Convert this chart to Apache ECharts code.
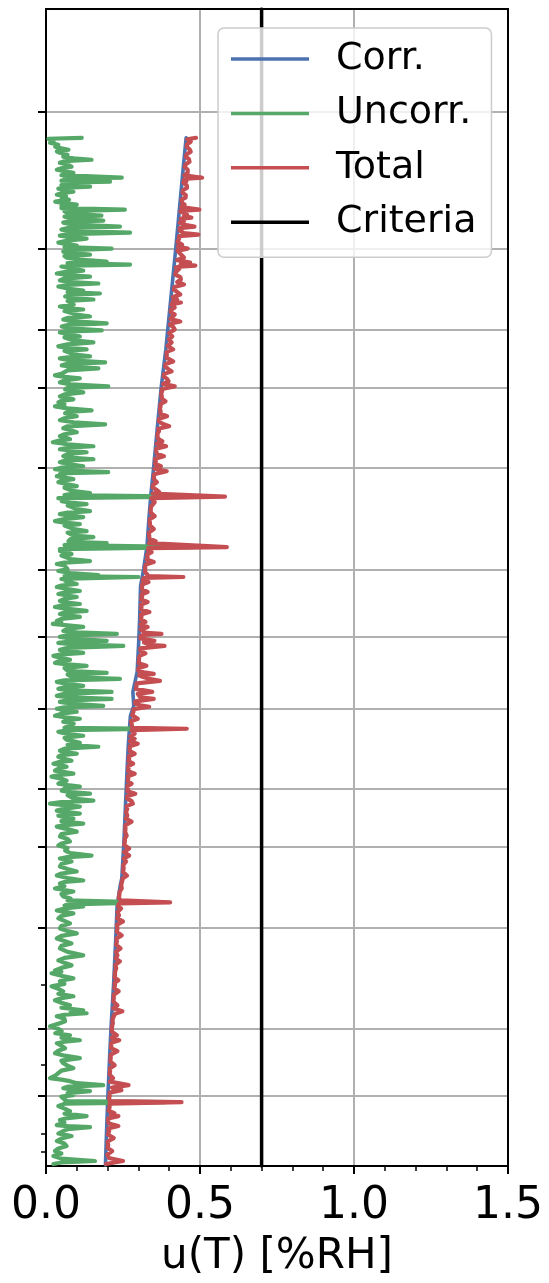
<!DOCTYPE html>
<html><head><meta charset="utf-8">
<script src="https://cdn.jsdelivr.net/npm/echarts@6/dist/echarts.min.js"></script>
<style>html,body{margin:0;padding:0;background:#fff}#c{width:549px;height:1283px}</style>
</head><body><div id="c"></div>
<script>
// Series names (legend order)
const seriesNames = ['Corr.', 'Uncorr.', 'Total', 'Criteria'];
// Each entry: [profile level (arbitrary units, increasing downward), u(T) in %RH]
const corr = [[138,0.455],[170,0.445],[200,0.436],[250,0.421],[303,0.404],[350,0.389],[388,0.374],[430,0.361],[473,0.348],[497,0.34],[520,0.334],[547,0.328],[570,0.317],[587,0.307],[620,0.304],[643,0.301],[673,0.296],[693,0.282],[707,0.285],[717,0.274],[747,0.267],[773,0.263],[807,0.258],[843,0.253],[880,0.246],[887,0.241],[907,0.231],[943,0.226],[983,0.22],[1030,0.211],[1063,0.206],[1097,0.201],[1130,0.197],[1167,0.193]];
const uncorr = [[138,0.116],[139,0.008],[141,0.025],[143,0.013],[145,0.04],[147,0.03],[148.5,0.05],[150,0.073],[151.5,0.035],[153,0.045],[155,0.07],[157,0.056],[158.5,0.09],[160,0.148],[161.5,0.06],[163,0.045],[165,0.07],[167,0.083],[168.5,0.05],[170,0.035],[171.5,0.06],[173,0.089],[175.5,0.05],[178,0.246],[179,0.06],[180,0.078],[181,0.05],[182,0.208],[183,0.06],[184,0.083],[185.5,0.05],[187,0.143],[188,0.07],[189,0.04],[190.5,0.07],[192,0.089],[193.5,0.05],[195,0.035],[196.5,0.065],[198,0.05],[200,0.075],[202,0.03],[203.5,0.06],[205,0.1],[206,0.05],[207,0.073],[208.5,0.05],[210,0.256],[211.5,0.06],[213,0.067],[214.5,0.1],[216,0.18],[217,0.06],[218,0.062],[219.5,0.11],[221,0.186],[222,0.07],[223,0.056],[225,0.09],[227,0.24],[228.5,0.07],[230,0.05],[231.5,0.09],[233,0.273],[234.5,0.07],[236,0.045],[237.5,0.08],[239,0.132],[241,0.07],[243,0.04],[244.5,0.07],[246,0.1],[247.5,0.06],[249,0.213],[250.5,0.07],[252,0.056],[253.5,0.09],[255,0.143],[256.5,0.06],[258,0.067],[260,0.11],[262,0.197],[263.5,0.07],[265,0.273],[266,0.08],[267,0.05],[269,0.08],[271,0.121],[272.5,0.06],[274,0.035],[275.5,0.07],[277,0.143],[279,0.06],[281,0.045],[282.5,0.08],[284,0.17],[285.5,0.07],[287,0.04],[289,0.07],[291,0.121],[292.5,0.07],[294,0.175],[295.5,0.08],[297,0.062],[298.5,0.09],[300,0.154],[301.5,0.07],[303,0.067],[305,0.09],
[307,0.045],[308.5,0.07],[310,0.121],[311.5,0.06],[313,0.062],[315,0.1],[317,0.143],[318.5,0.07],[320,0.056],[322,0.09],[324,0.197],[325.5,0.07],[327,0.051],[329,0.08],[331,0.181],[332,0.07],[333,0.045],[335,0.08],[337,0.11],[338,0.06],[339,0.062],[341,0.09],[343,0.154],[345,0.07],[347,0.04],[348.5,0.07],[350,0.132],[351.5,0.06],[353,0.056],[355,0.09],[357,0.143],[358,0.07],[359,0.045],[361,0.08],[363,0.192],[364.5,0.07],[366,0.051],[367.5,0.09],[369,0.17],[371,0.07],[373,0.067],[374.5,0.05],[376,0.029],[377.5,0.06],[379,0.11],[381,0.06],[383,0.045],[385,0.08],[387,0.202],[388.5,0.07],[390,0.062],[391.5,0.09],[393,0.121],[395,0.06],[397,0.045],[398.5,0.07],[400,0.089],[401.5,0.05],[403,0.04],[405,0.06],[407,0.029],[409,0.07],[411,0.148],[412.5,0.07],[414,0.062],[415.5,0.08],[417,0.1],[419,0.06],[421,0.045],[423,0.09],[425,0.192],[427,0.07],[429,0.056],[431,0.08],[433,0.1],[435,0.06],[437,0.045],[438.5,0.065],[440,0.078],[441.5,0.04],[443,0.022],[445,0.07],[447,0.154],[448.5,0.07],[450,0.045],[451.5,0.08],[453,0.132],[455,0.07],[457,0.056],[458.5,0.09],[460,0.154],[461.5,0.06],[463,0.045],[465,0.08],[467,0.121],[468.5,0.05],[470,0.029],[471.5,0.07],[473,0.202],[474,0.07],
[475,0.045],[476,0.06],[477,0.035],[478.5,0.06],[480,0.089],[481.5,0.05],[483,0.04],[485,0.07],[487,0.1],[488.5,0.06],[490,0.056],[492,0.09],[494,0.143],[495,0.08],[496,0.06],[497.5,0.45],[499,0.04],[500.5,0.07],[502,0.051],[503.5,0.08],[505,0.132],[506.5,0.07],[508,0.067],[510,0.1],[512,0.143],[513.5,0.07],[515,0.045],[516.5,0.08],[518,0.121],[520,0.06],[522,0.029],[523.5,0.06],[525,0.11],[526.5,0.06],[528,0.062],[530,0.09],[532,0.132],[533.5,0.07],[535,0.067],[536.5,0.09],[538,0.154],[540,0.08],[542,0.073],[543,0.1],[544,0.197],[545,0.08],[546,0.06],[548,0.48],[550,0.045],[551,0.07],[552,0.045],[553.5,0.07],[555,0.083],[556.5,0.05],[558,0.045],[560,0.08],[562,0.143],[563.5,0.06],[565,0.035],[566.5,0.06],[568,0.056],[570,0.07],[572,0.04],[574,0.08],[576,0.17],[577,0.06],[578,0.3],[580,0.05],[581,0.07],[582,0.062],[583.5,0.08],[585,0.1],[586.5,0.05],[588,0.035],[590,0.07],[592,0.11],[593.5,0.06],[595,0.04],[596.5,0.07],[598,0.1],[600,0.06],[602,0.045],[603.5,0.07],[605,0.11],[606.5,0.05],[608,0.029],[610,0.07],[612,0.132],[613.5,0.06],[615,0.045],[616.5,0.07],[618,0.11],[620,0.05],[622,0.035],[623.5,0.05],[625,0.022],[626.5,0.07],[628,0.121],[630,0.07],[632,0.056],[633.5,0.1],[635,0.23],[636.5,0.07],[638,0.045],[640,0.09],[642,0.197],[643,0.07],
[644,0.04],[645.5,0.09],[647,0.251],[649,0.07],[651,0.045],[652.5,0.08],[654,0.121],[655.5,0.05],[657,0.024],[659,0.05],[661,0.078],[662.5,0.04],[664,0.029],[665.5,0.07],[667,0.132],[669,0.06],[671,0.067],[672.5,0.1],[674,0.197],[675.5,0.07],[677,0.078],[678.5,0.1],[680,0.24],[681.5,0.06],[683,0.035],[685,0.07],[687,0.121],[688.5,0.06],[690,0.04],[691.5,0.08],[693,0.213],[695,0.06],[697,0.035],[698.5,0.08],[700,0.213],[701.5,0.07],[703,0.045],[705,0.09],[707,0.186],[708.5,0.06],[710,0.035],[711.5,0.06],[713,0.1],[715,0.05],[717,0.029],[718.5,0.06],[720,0.11],[721.5,0.07],[723,0.056],[725,0.09],[727,0.078],[729,0.06],[730,0.36],[731.5,0.07],[733,0.04],[734,0.051],[735.5,0.08],[737,0.121],[739,0.06],[741,0.067],[742.5,0.09],[744,0.11],[746,0.07],[748,0.17],[750,0.06],[752,0.045],[753.5,0.07],[755,0.1],[756.5,0.05],[758,0.04],[760,0.06],[762,0.083],[763.5,0.04],[765,0.024],[766.5,0.05],[768,0.067],[770,0.04],[772,0.029],[773.5,0.06],[775,0.089],[776.5,0.04],[778,0.018],[780,0.05],[782,0.067],[783.5,0.05],[785,0.04],[786.5,0.07],[788,0.11],[790,0.06],[792,0.051],[793.5,0.08],[795,0.143],[796.5,0.07],[798,0.067],[800,0.09],[802,0.154],[803.5,0.05],[805,0.013],[806.5,0.06],[808,0.11],[810,0.06],[812,0.035],[813.5,0.07],
[815,0.11],[816,0.06],[817,0.04],[818.5,0.06],[820,0.089],[822.5,0.05],[825,0.121],[826.5,0.06],[828,0.035],[830.5,0.07],[833,0.1],[835.5,0.05],[838,0.045],[840.5,0.07],[843,0.078],[845,0.05],[847,0.04],[849.5,0.07],[852,0.062],[854.5,0.08],[857,0.148],[858.5,0.07],[860,0.045],[861.5,0.07],[863,0.083],[865.5,0.05],[868,0.045],[870.5,0.07],[873,0.1],[875,0.05],[877,0.035],[879.5,0.07],[882,0.121],[883.5,0.06],[885,0.045],[887.5,0.06],[890,0.029],[891.5,0.06],[893,0.089],[895.5,0.05],[898,0.056],[900,0.08],[902,0.07],[904,0.32],[906,0.08],[907,0.06],[908,0.121],[910,0.06],[912,0.035],[913.5,0.06],[915,0.089],[917.5,0.05],[920,0.04],[922.5,0.06],[925,0.078],[927.5,0.05],[930,0.045],[932.5,0.07],[935,0.1],[937.5,0.05],[940,0.035],[942.5,0.06],[945,0.083],[947.5,0.05],[950,0.045],[953.5,0.07],[957,0.121],[959.5,0.06],[962,0.04],[964.5,0.06],[967,0.083],[969.5,0.05],[972,0.029],[973.5,0.05],[975,0.018],[977.5,0.05],[980,0.089],[981.5,0.06],
[983,0.045],[985.5,0.06],[988,0.018],[990.5,0.04],[993,0.056],[995.5,0.04],[998,0.089],[1000,0.05],[1002,0.029],[1004.5,0.05],[1007,0.078],[1009.5,0.05],[1012,0.121],[1013.5,0.08],[1015,0.132],[1016.5,0.06],[1018,0.035],[1020.5,0.06],[1023,0.062],[1025.5,0.04],[1028,0.013],[1030.5,0.04],[1033,0.051],[1035,0.03],[1037,0.078],[1039.5,0.05],[1042,0.11],[1043.5,0.06],[1045,0.035],[1047.5,0.05],[1050,0.062],[1052.5,0.04],[1055,0.029],[1057.5,0.06],[1060,0.11],[1062.5,0.05],[1065,0.056],[1067.5,0.07],[1070,0.089],[1072.5,0.05],[1075,0.04],[1077.5,0.03],[1080,0.013],[1081.5,0.05],[1083,0.078],[1085,0.1],[1087,0.186],[1088.5,0.07],[1090,0.056],[1091.5,0.09],[1093,0.143],[1095,0.07],[1097,0.089],[1098.5,0.05],[1100,0.045],[1101.5,0.06],[1103,0.07],[1104,0.39],[1105.5,0.06],[1107,0.05],[1108,0.04],[1110.5,0.06],[1113,0.078],[1115.5,0.06],[1118,0.132],[1120,0.07],[1122,0.045],[1124.5,0.06],[1127,0.035],[1128,0.07],[1129,0.143],[1131,0.07],[1133,0.056],[1135.5,0.04],[1138,0.083],[1140.5,0.05],[1143,0.035],[1145.5,0.06],[1148,0.067],[1150.5,0.04],[1153,0.029],[1155.5,0.05],[1158,0.024],[1160.5,0.05],[1163,0.159],[1164.5,0.05],[1166,0.024]];
const total = [[138,0.487],[139.5,0.459],[141,0.462],[142,0.47],[144.5,0.458],[147,0.457],[149.5,0.466],[152,0.47],[154.5,0.457],[157,0.454],[159.5,0.464],[162,0.466],[164.5,0.454],[167,0.45],[170,0.46],[173,0.46],[175.5,0.449],[178,0.507],[179,0.458],[180,0.448],[181.5,0.456],[183,0.446],[185.5,0.457],[188,0.458],[190.5,0.445],[193,0.443],[195.5,0.454],[198,0.453],[200,0.44],[202,0.438],[203.5,0.442],[205,0.45],[207.5,0.439],[210,0.498],[211,0.448],[212,0.436],[213.5,0.448],[215,0.458],[216.5,0.448],[218,0.472],[219,0.438],[220,0.433],[221.5,0.448],[223,0.434],[225,0.446],[227,0.482],[228.5,0.434],[230,0.43],[231,0.434],[232,0.432],[233.5,0.448],[235,0.495],[236.5,0.432],[238,0.428],[239,0.432],[240,0.43],[242.5,0.427],[245,0.442],[247,0.428],[249,0.46],[251,0.427],[253,0.425],[255.5,0.44],[258,0.448],[260.5,0.426],[263,0.468],[264.5,0.438],[266,0.485],[267,0.433],[268,0.422],[269,0.433],[270,0.436],[272.5,0.422],[275,0.42],[277.5,0.436],[280,0.438],[282.5,0.426],[285,0.448],[287.5,0.417],[290,0.415],[292.5,0.426],[295,0.436],[297.5,0.412],[300,0.426],[301.5,0.412],[303,0.438],
[305,0.407],[306.5,0.41],[308,0.418],[310.5,0.405],[313,0.406],[315,0.418],[317,0.423],[319.5,0.404],[322,0.436],[323.5,0.413],[325,0.402],[327.5,0.413],[330,0.418],[333.5,0.4],[337,0.41],[340,0.399],[343,0.408],[346.5,0.395],[350,0.413],[352.5,0.392],[355,0.392],[358.5,0.392],[362,0.413],[364.5,0.388],[367,0.387],[369.5,0.396],[372,0.408],[374.5,0.384],[377,0.382],[379.5,0.393],[382,0.398],[384.5,0.38],[387,0.418],[389.5,0.377],[392,0.377],[394.5,0.374],[397,0.376],[399.5,0.376],[402,0.388],[404.5,0.372],[407,0.372],[409.5,0.37],[412,0.372],[414.5,0.372],[417,0.393],[419.5,0.367],[422,0.366],[424.5,0.378],[427,0.4],[429.5,0.364],[432,0.367],[434.5,0.362],[437,0.362],[439.5,0.364],[442,0.378],[444.5,0.359],[447,0.39],[449.5,0.358],[452,0.358],[454.5,0.36],[457,0.383],[459.5,0.354],[462,0.357],[464.5,0.354],[467,0.373],[469.5,0.352],[472,0.392],[475,0.351],
[478,0.35],[480.5,0.352],[483,0.36],[485.5,0.348],[488,0.346],[490.5,0.358],[493,0.368],[494.5,0.347],[496,0.344],[497.5,0.581],[499,0.342],[500,0.344],[501,0.344],[503,0.353],[505,0.358],[507.5,0.341],[510,0.34],[513.5,0.34],[517,0.353],[520,0.337],[523,0.337],[526.5,0.338],[530,0.35],[533.5,0.334],[537,0.335],[539.5,0.336],[542,0.356],[544,0.334],[546,0.332],[548,0.587],[549,0.332],[550,0.33],[551.5,0.332],[553,0.343],[555.5,0.328],[558,0.33],[560.5,0.327],[563,0.35],[565.5,0.324],[568,0.322],[570.5,0.322],[573,0.322],[575,0.318],[577,0.333],[578,0.446],[579,0.317],[580,0.317],[581.5,0.314],[583,0.333],[585.5,0.312],[588,0.312],[590.5,0.312],[593,0.33],[595.5,0.31],[598,0.312],[600.5,0.309],[603,0.33],[605.5,0.309],[608,0.31],[610.5,0.309],[613,0.336],[615.5,0.308],[618,0.31],[620.5,0.308],[623,0.323],[625.5,0.307],[628,0.33],[630.5,0.307],[633,0.318],[634,0.328],[635,0.375],[636,0.315],[637,0.307],[639.5,0.307],[642,0.352],
[643.5,0.318],[645,0.316],[646,0.335],[647,0.385],[649.5,0.306],[652,0.307],[654.5,0.323],[657,0.304],[659.5,0.302],[662,0.302],[664.5,0.301],[667,0.326],[669.5,0.3],[672,0.3],[673.5,0.318],[675,0.35],[676.5,0.302],[678,0.313],[680,0.335],[682,0.37],[684.5,0.294],[687,0.294],[690,0.292],[693,0.345],[695,0.298],[697,0.296],[698.5,0.306],[700,0.35],[702.5,0.29],[705,0.29],[706.5,0.306],[708,0.335],[710.5,0.284],[713,0.284],[716.5,0.28],[720,0.298],[722.5,0.276],[725,0.278],[727,0.277],[729,0.28],[730,0.457],[731.5,0.278],[733,0.274],[735,0.288],[737.5,0.274],[740,0.288],[742.5,0.272],[745,0.298],[747.5,0.272],[750,0.272],[752.5,0.272],[755,0.288],[757.5,0.269],[760,0.27],[762.5,0.268],[765,0.283],[767.5,0.267],[770,0.268],[772.5,0.267],[775,0.288],[777.5,0.266],[780,0.267],[782.5,0.266],[785,0.278],[787.5,0.264],[790,0.266],[792.5,0.264],[795,0.29],[797.5,0.263],[800,0.264],[802.5,0.278],[805,0.282],[807.5,0.262],[810,0.264],[813.5,0.26],
[817,0.264],[820,0.259],[823,0.278],[826.5,0.258],[830,0.258],[833.5,0.257],[837,0.262],[840,0.256],[843,0.256],[846.5,0.254],[850,0.27],[853.5,0.253],[857,0.27],[860,0.252],[863,0.26],[866.5,0.251],[870,0.252],[873.5,0.25],[877,0.263],[880,0.249],[883,0.247],[886.5,0.244],[890,0.246],[893.5,0.239],[897,0.238],[899.5,0.236],[902,0.243],[903,0.238],[904,0.403],[905,0.237],[906,0.236],[908,0.234],[910,0.244],[913.5,0.232],[917,0.237],[920,0.231],[923,0.25],[926.5,0.23],[930,0.232],[933.5,0.23],[937,0.246],[940,0.229],[943,0.23],[946.5,0.228],[950,0.242],[953.5,0.227],[957,0.232],[960,0.226],[963,0.24],[966.5,0.225],[970,0.228],[973.5,0.224],[977,0.224],[979.5,0.223],[982,0.235],
[984.5,0.223],[987,0.224],[990,0.222],[993,0.236],[996.5,0.22],[1000,0.22],[1003.5,0.219],[1007,0.232],[1010,0.218],[1013,0.248],[1015.5,0.224],[1018,0.22],[1021.5,0.216],[1025,0.217],[1027.5,0.215],[1030,0.214],[1033.5,0.214],[1037,0.23],[1039.5,0.213],[1042,0.238],[1044.5,0.212],[1047,0.212],[1050,0.211],[1053,0.232],[1056.5,0.21],[1060,0.21],[1063.5,0.209],[1067,0.223],[1070,0.208],[1073,0.208],[1076.5,0.207],[1080,0.218],[1083.5,0.207],[1087,0.268],[1089.5,0.214],[1092,0.245],[1094.5,0.207],[1097,0.207],[1100,0.205],[1103,0.207],[1104,0.44],[1105.5,0.207],[1107.5,0.204],[1110,0.206],[1112.5,0.203],[1115,0.222],[1116.5,0.21],[1118,0.235],[1120.5,0.202],[1123,0.202],[1125.5,0.204],[1128,0.235],[1130.5,0.202],[1133,0.205],[1136.5,0.201],[1140,0.22],[1143.5,0.2],[1147,0.202],[1150,0.2],[1153,0.215],[1156.5,0.199],[1160,0.204],[1161.5,0.2],[1163,0.25],[1166,0.195]];
const criteriaValue = 0.7;
const levelRange = [9, 1168];
const majorLevels = [111.7, 249.3, 330.7, 388.3, 469, 571, 638, 710, 790, 848, 929, 1031, 1098];
const minorLevels = [986, 1067, 1136, 1154];
const xRange = [0, 1.5];
const xTickLabels = ['0.0', '0.5', '1.0', '1.5'];
const xLabel = 'u(T) [%RH]';

const FONT = 'DejaVu Sans';
const toXY = arr => arr.map(p => [p[1], p[0]]);
const chart = echarts.init(document.getElementById('c'), null, {renderer: 'canvas'});
const lineSeries = (name, data, color, width) => ({
  name, type: 'line', data, symbol: 'none', showSymbol: false, silent: true,
  xAxisIndex: 0, yAxisIndex: 0,
  lineStyle: {color, width, join: 'round', cap: 'round'}, itemStyle: {color}
});
chart.setOption({
  animation: false,
  backgroundColor: '#fff',
  grid: {left: 46, right: 41, top: 9, bottom: 115, show: true, borderColor: '#000', borderWidth: 2, z: 3, backgroundColor: 'rgba(0,0,0,0)'},
  xAxis: {
    type: 'value', min: xRange[0], max: xRange[1], interval: 0.5, position: 'bottom',
    axisLine: {show: false},
    axisTick: {show: true, length: 8, lineStyle: {color: '#000', width: 2}},
    minorTick: {show: true, splitNumber: 5, length: 5, lineStyle: {color: '#000', width: 1.5}},
    axisLabel: {fontFamily: FONT, fontSize: 44, color: '#000', margin: 19, formatter: v => xTickLabels[Math.round(v / 0.5)]},
    splitLine: {show: true, lineStyle: {color: '#b0b0b0', width: 2}},
    name: xLabel, nameLocation: 'middle', nameGap: 70,
    nameTextStyle: {fontFamily: FONT, fontSize: 42, color: '#000'}
  },
  yAxis: [
    {type: 'value', min: levelRange[0], max: levelRange[1], inverse: true, position: 'left',
     axisLine: {show: false}, axisLabel: {show: false},
     axisTick: {show: true, length: 8, customValues: majorLevels, lineStyle: {color: '#000', width: 2}},
     splitLine: {show: true, lineStyle: {color: '#b0b0b0', width: 2}}},
    {type: 'value', min: levelRange[0], max: levelRange[1], inverse: true, position: 'left',
     axisLine: {show: false}, axisLabel: {show: false},
     axisTick: {show: true, length: 5, customValues: minorLevels, lineStyle: {color: '#000', width: 1.5}},
     splitLine: {show: false}}
  ],
  legend: {
    orient: 'vertical', left: 218, top: 28, data: seriesNames,
    icon: 'rect', itemWidth: 78, itemHeight: 3.5, itemGap: 12.4,
    padding: [10, 15, 14, 13],
    backgroundColor: 'rgba(255,255,255,0.8)', borderColor: '#cccccc', borderWidth: 1.5, borderRadius: 6,
    textStyle: {fontFamily: FONT, fontSize: 38, color: '#000', lineHeight: 42, padding: [0, 0, 0, 22]},
    selectedMode: false, z: 10
  },
  series: [
    lineSeries(seriesNames[0], toXY(corr), '#4c72b0', 3.6),
    lineSeries(seriesNames[1], toXY(uncorr), '#55a868', 4.2),
    lineSeries(seriesNames[2], toXY(total), '#c44e52', 4.2),
    lineSeries(seriesNames[3], [[criteriaValue, levelRange[0]], [criteriaValue, levelRange[1]]], '#000000', 3.5)
  ]
});
</script></body></html>
